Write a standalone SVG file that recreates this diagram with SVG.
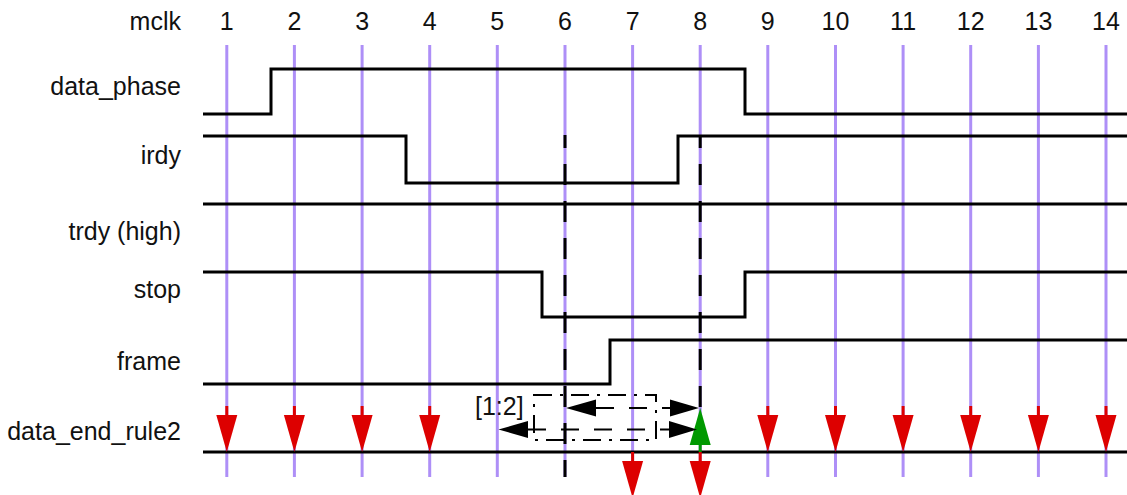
<svg xmlns="http://www.w3.org/2000/svg" width="1127" height="495" viewBox="0 0 1127 495">
<style>
text{font-family:"Liberation Sans",Arial,sans-serif;font-size:25px;fill:#111}
.lbl{text-anchor:end}
.clk{text-anchor:middle}
.tick{stroke:#ae8ff7;stroke-width:3}
.sig{fill:none;stroke:#000;stroke-width:3;stroke-linejoin:miter}
.mark{fill:none;stroke:#000;stroke-width:3;stroke-dasharray:21,16;stroke-dashoffset:8}
.box{fill:none;stroke:#000;stroke-width:2;stroke-dasharray:18,8,3,8}
.span{fill:none;stroke:#000;stroke-width:2;stroke-dasharray:18,15}
.head{fill:#000}
</style>
<defs>
<g id="redDown">
<line x1="0" y1="-46" x2="0" y2="-36" stroke="#dd0000" stroke-width="3"/>
<polygon points="-10.5,-37 10.5,-37 0,0" fill="#dd0000"/>
</g>
</defs>
<rect width="1127" height="495" fill="#fff"/>
<g id="labels">
<text class="lbl" x="181" y="30">mclk</text>
<text class="lbl" x="181" y="95">data_phase</text>
<text class="lbl" x="181" y="164">irdy</text>
<text class="lbl" x="181" y="240">trdy (high)</text>
<text class="lbl" x="181" y="298">stop</text>
<text class="lbl" x="181" y="370">frame</text>
<text class="lbl" x="181" y="440">data_end_rule2</text>
</g>
<g id="clock-numbers">
<text class="clk" x="226.8" y="30">1</text>
<text class="clk" x="294.4" y="30">2</text>
<text class="clk" x="362.1" y="30">3</text>
<text class="clk" x="429.7" y="30">4</text>
<text class="clk" x="497.3" y="30">5</text>
<text class="clk" x="565" y="30">6</text>
<text class="clk" x="632.6" y="30">7</text>
<text class="clk" x="700.2" y="30">8</text>
<text class="clk" x="767.8" y="30">9</text>
<text class="clk" x="835.5" y="30">10</text>
<text class="clk" x="903.1" y="30">11</text>
<text class="clk" x="970.7" y="30">12</text>
<text class="clk" x="1038.4" y="30">13</text>
<text class="clk" x="1106" y="30">14</text>
</g>
<g id="clock-lines">
<line class="tick" x1="226.8" y1="45" x2="226.8" y2="477"/>
<line class="tick" x1="294.4" y1="45" x2="294.4" y2="477"/>
<line class="tick" x1="362.1" y1="45" x2="362.1" y2="477"/>
<line class="tick" x1="429.7" y1="45" x2="429.7" y2="477"/>
<line class="tick" x1="497.3" y1="45" x2="497.3" y2="477"/>
<line class="tick" x1="565" y1="45" x2="565" y2="477"/>
<line class="tick" x1="632.6" y1="45" x2="632.6" y2="477"/>
<line class="tick" x1="700.2" y1="45" x2="700.2" y2="477"/>
<line class="tick" x1="767.8" y1="45" x2="767.8" y2="477"/>
<line class="tick" x1="835.5" y1="45" x2="835.5" y2="477"/>
<line class="tick" x1="903.1" y1="45" x2="903.1" y2="477"/>
<line class="tick" x1="970.7" y1="45" x2="970.7" y2="477"/>
<line class="tick" x1="1038.4" y1="45" x2="1038.4" y2="477"/>
<line class="tick" x1="1106" y1="45" x2="1106" y2="477"/>
</g>
<g id="data_phase"><path class="sig" d="M203,114 H271 V69 H745 V114 H1127"/></g>
<g id="irdy"><path class="sig" d="M203,136 H406 V183 H678 V136 H1127"/></g>
<g id="trdy"><path class="sig" d="M203,204 H1127"/></g>
<g id="stop"><path class="sig" d="M203,272 H542 V317 H745 V272 H1127"/></g>
<g id="frame"><path class="sig" d="M203,384 H610 V340 H1127"/></g>
<g id="data_end_rule2"><path class="sig" d="M203,452 H1127"/></g>
<g id="markers">
<line class="mark" x1="565" y1="135" x2="565" y2="477"/>
<line class="mark" x1="700.2" y1="135" x2="700.2" y2="452"/>
</g>
<g id="events">
<use href="#redDown" x="226.8" y="452"/>
<use href="#redDown" x="294.4" y="452"/>
<use href="#redDown" x="362.1" y="452"/>
<use href="#redDown" x="429.7" y="452"/>
<use href="#redDown" x="767.8" y="452"/>
<use href="#redDown" x="835.5" y="452"/>
<use href="#redDown" x="903.1" y="452"/>
<use href="#redDown" x="970.7" y="452"/>
<use href="#redDown" x="1038.4" y="452"/>
<use href="#redDown" x="1106" y="452"/>
<use href="#redDown" x="632.6" y="498"/>
<use href="#redDown" x="700.2" y="498"/>
<g id="green-up">
<line x1="700.2" y1="452" x2="700.2" y2="443" stroke="#009900" stroke-width="3"/>
<polygon points="689.7,445 710.7,445 700.2,408" fill="#009900"/>
</g>
</g>
<g id="connectors">
<rect class="box" x="534" y="395" width="122" height="45"/>
<line class="span" x1="596" y1="408" x2="670" y2="408"/>
<polygon class="head" points="566,408 596,399.5 596,416.5"/>
<polygon class="head" points="699,408 670,399.5 670,416.5"/>
<line class="span" x1="528" y1="429.5" x2="669" y2="429.5" stroke-width="1.5"/>
<polygon class="head" points="498.5,429.5 528,421 528,438"/>
<polygon class="head" points="697,429.5 669,421 669,438"/>
</g>
<text x="475" y="415">[1:2]</text>
</svg>
